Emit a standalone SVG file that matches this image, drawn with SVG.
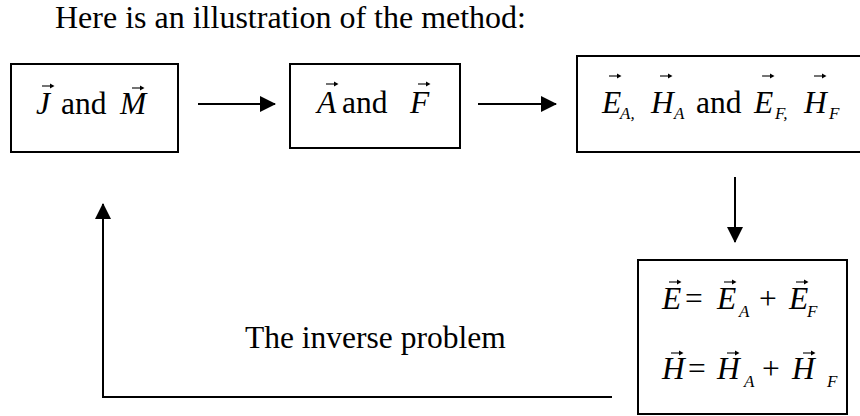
<svg xmlns="http://www.w3.org/2000/svg" xmlns:xlink="http://www.w3.org/1999/xlink" width="860" height="416" viewBox="0 0 860 416">
<style>
.box{fill:#fff;stroke:#000;stroke-width:2}
.ln{fill:none;stroke:#000;stroke-width:2}
.t{font-family:"Liberation Serif","Times New Roman",serif;font-size:31.5px;fill:#000}
.i{font-style:italic}
.s{font-size:17px;font-style:italic}
</style>
<defs>
<marker id="ah" markerWidth="8" markerHeight="8" refX="7.5" refY="4" orient="auto" markerUnits="strokeWidth">
<path d="M0,0 L8,4 L0,8 Z" fill="#000"/>
</marker>
<g id="vec"><path d="M0,0 H9" stroke="#000" stroke-width="1.1" fill="none"/><path d="M8,-2.6 L12.5,0 L8,2.6 Z" fill="#000"/></g>
</defs>
<rect width="860" height="416" fill="#fff"/>
<text class="t" x="55" y="28" style="font-size:32px">Here is an illustration of the method:</text>

<g id="connectors">
<line class="ln" x1="198" y1="104" x2="275" y2="104" marker-end="url(#ah)"/>
<line class="ln" x1="478" y1="104" x2="556" y2="104" marker-end="url(#ah)"/>
<line class="ln" x1="735" y1="177" x2="735" y2="242" marker-end="url(#ah)"/>
<polyline class="ln" points="612,397 103,397 103,204" marker-end="url(#ah)"/>
<text class="t" x="245" y="348">The inverse problem</text>
</g>

<g id="node-jm">
<rect class="box" x="11" y="64" width="167" height="88"/>
<text class="t" y="114"><tspan class="i" x="36">J</tspan><tspan x="61">and</tspan><tspan class="i" x="120">M</tspan></text>
<use xlink:href="#vec" x="42" y="86"/>
<use xlink:href="#vec" x="132" y="88"/>
</g>

<g id="node-af">
<rect class="box" x="290" y="64" width="170" height="84"/>
<text class="t" y="113"><tspan class="i" x="317">A</tspan><tspan x="342">and</tspan><tspan class="i" x="410">F</tspan></text>
<use xlink:href="#vec" x="326" y="84"/>
<use xlink:href="#vec" x="418" y="84"/>
</g>

<g id="node-fields">
<rect class="box" x="577" y="56" width="290" height="96"/>
<text class="t" y="113"><tspan class="i" x="602">E</tspan><tspan class="s" x="620" y="119">A,</tspan><tspan class="i" x="651" y="113">H</tspan><tspan class="s" x="674" y="119">A</tspan><tspan x="696" y="113">and</tspan><tspan class="i" x="754">E</tspan><tspan class="s" x="775" y="119">F,</tspan><tspan class="i" x="804" y="113">H</tspan><tspan class="s" x="829" y="119">F</tspan></text>
<use xlink:href="#vec" x="609" y="76"/>
<use xlink:href="#vec" x="660" y="76"/>
<use xlink:href="#vec" x="762" y="76"/>
<use xlink:href="#vec" x="814" y="76"/>
</g>

<g id="node-sum">
<rect class="box" x="638" y="260" width="209" height="154"/>
<text class="t" y="309"><tspan class="i" x="662">E</tspan><tspan x="685">=</tspan><tspan class="i" x="717">E</tspan><tspan class="s" x="739" y="317">A</tspan><tspan x="759" y="309">+</tspan><tspan class="i" x="789">E</tspan><tspan class="s" x="807" y="317">F</tspan></text>
<use xlink:href="#vec" x="669" y="282"/>
<use xlink:href="#vec" x="724" y="282"/>
<use xlink:href="#vec" x="796" y="282"/>
<text class="t" y="379"><tspan class="i" x="662">H</tspan><tspan x="688">=</tspan><tspan class="i" x="717">H</tspan><tspan class="s" x="744" y="387">A</tspan><tspan x="762" y="379">+</tspan><tspan class="i" x="792">H</tspan><tspan class="s" x="827" y="387">F</tspan></text>
<use xlink:href="#vec" x="671" y="353"/>
<use xlink:href="#vec" x="727" y="353"/>
<use xlink:href="#vec" x="803" y="353"/>
</g>
</svg>
